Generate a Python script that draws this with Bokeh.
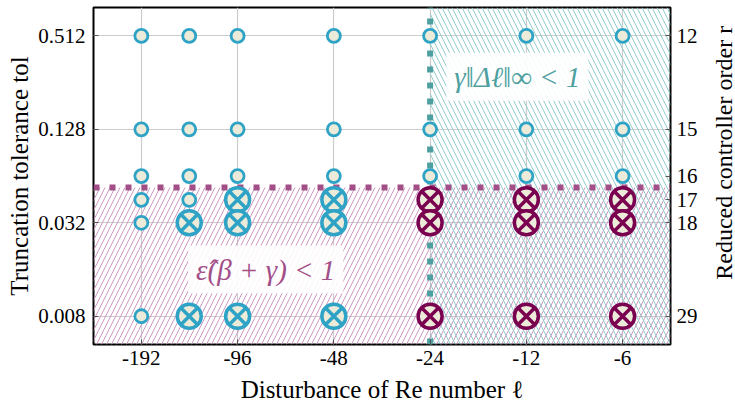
import math
from bokeh.plotting import figure
from bokeh.layouts import row
from bokeh.models import Range1d, LogAxis, FixedTicker, Label
from bokeh.core.properties import value
from bokeh.embed import file_html
from bokeh.resources import INLINE

# ---- data ----
ell_values = [-192, -136, -96, -48, -24, -12, -6]
ell_ticks = [-192, -96, -48, -24, -12, -6]
tol_values = [0.512, 0.128, 0.064, 0.045, 0.032, 0.008]
tol_ticks = [0.512, 0.128, 0.032, 0.008]
order_r = [12, 15, 16, 17, 18, 29]
# status per ell column, per tol row: 0 = plain point, 1 = blue crossed, 2 = maroon crossed
status = [
    [0, 0, 0, 0, 0, 0],
    [0, 0, 0, 0, 1, 1],
    [0, 0, 0, 1, 1, 1],
    [0, 0, 0, 1, 1, 1],
    [0, 0, 0, 2, 2, 2],
    [0, 0, 0, 2, 2, 2],
    [0, 0, 0, 2, 2, 2],
]
ell_threshold = -24
tol_threshold = 0.054

BLUE = "#2ea3c6"
MAROON = "#7a0050"
BEIGE = "#ecead8"
PINK = "#a24f88"
TEAL = "#4e9f9f"
FONT = "Liberation Serif"

x0, x1 = 271.0, 4.25
y0, y1 = 0.00526, 0.78

p = figure(frame_width=577, frame_height=337, x_axis_type="log", y_axis_type="log",
           x_range=Range1d(x0, x1), y_range=Range1d(y0, y1),
           output_backend="svg", toolbar_location=None,
           min_border_left=93, min_border_right=41, min_border_top=7, min_border_bottom=63)
p.outline_line_color = "black"
p.outline_line_width = 2
p.outline_line_alpha = 1

# hatched regions
p.quad(left=[x0], right=[x1], bottom=[y0], top=[tol_threshold], fill_alpha=0, line_alpha=0,
       hatch_pattern="/", hatch_color="#cf98c3", hatch_weight=1, hatch_scale=10)
p.quad(left=[-ell_threshold], right=[x1], bottom=[y0], top=[y1], fill_alpha=0, line_alpha=0,
       hatch_pattern="\\", hatch_color="#92cccc", hatch_weight=1, hatch_scale=10)

# threshold lines
p.line(x=[x0, x1], y=[tol_threshold, tol_threshold], line_color=PINK, line_width=6, line_dash="6 10")
p.line(x=[-ell_threshold, -ell_threshold], y=[y0, y1], line_color=TEAL, line_width=6, line_dash="6 10")

# markers
xs = {0: [], 1: [], 2: []}
ys = {0: [], 1: [], 2: []}
for ell, col in zip(ell_values, status):
    for t, s in zip(tol_values, col):
        xs[s].append(-ell)
        ys[s].append(t)
p.scatter(xs[0], ys[0], marker="circle", size=13, line_color=BLUE, line_width=2.8, fill_color=BEIGE)
p.scatter(xs[1], ys[1], marker="circle_x", size=24, line_color=BLUE, line_width=3.5, fill_color=BEIGE)
p.scatter(xs[2], ys[2], marker="circle_x", size=24, line_color=MAROON, line_width=3.5, fill_color=BEIGE)

# region labels
p.add_layout(Label(x=12.8, y=0.279, text="γ‖Δℓ‖∞ < 1", text_font=FONT, text_font_size="29px",
                   text_font_style="italic",
                   text_color=TEAL, text_align="center", text_baseline="middle",
                   background_fill_color="white", background_fill_alpha=0.9, padding=8))
p.add_layout(Label(x=78.4, y=0.016, text="ε̂(β + γ) < 1", text_font=FONT, text_font_size="29px",
                   text_font_style="italic",
                   text_color=PINK, text_align="center", text_baseline="middle",
                   background_fill_color="white", background_fill_alpha=0.9, padding=8))

# axes
xa = p.xaxis[0]
xa.ticker = FixedTicker(ticks=[-v for v in ell_ticks])
xa.major_label_overrides = {-v: str(v) for v in ell_ticks}
xa.axis_label = "Disturbance of Re number ℓ"
ya = p.yaxis[0]
ya.ticker = FixedTicker(ticks=tol_ticks)
ya.major_label_overrides = {v: str(v) for v in tol_ticks}
ya.axis_label = "Truncation tolerance tol"

ra = LogAxis(ticker=FixedTicker(ticks=tol_values),
             major_label_overrides={t: str(r) for t, r in zip(tol_values, order_r)})
p.add_layout(ra, "right")

for ax in [xa, ya, ra]:
    ax.axis_line_color = None
    ax.major_tick_in = 5
    ax.major_tick_out = 0
    ax.minor_tick_line_color = None
    ax.major_tick_line_color = "#555555"
    ax.major_label_text_font = FONT
    ax.major_label_text_font_size = "21px"
    ax.major_label_text_color = "black"
    ax.axis_label_text_font = FONT
    ax.axis_label_text_font_size = "25px"
    ax.axis_label_text_font_style = "normal"
    ax.axis_label_text_color = "black"
xa.major_label_standoff = 6
xa.axis_label_standoff = 8
ya.major_label_standoff = 8
ya.axis_label_standoff = 2
ra.major_label_standoff = 6

p.xgrid.ticker = FixedTicker(ticks=[-v for v in ell_ticks])
p.ygrid.ticker = FixedTicker(ticks=tol_ticks)
p.grid.grid_line_color = "#cccccc"
p.grid.grid_line_width = 1.2

# narrow strip on the right carrying the right-hand axis title
right_title = ["Reduced controller order r"]
p2 = figure(width=24, height=p.frame_height + 7 + 63, x_range=Range1d(0, 1), y_range=Range1d(0, 1),
            output_backend="svg", toolbar_location=None, min_border=0,
            x_axis_location=None, y_axis_location=None)
p2.outline_line_color = None
p2.grid.visible = False
p2.text(x=[0.5], y=[(337 / 2 + 63) / (337 + 70)], text=right_title, angle=math.pi / 2,
        text_font=value(FONT), text_font_size="24px", text_color="black",
        text_align="center", text_baseline="middle")

layout = row(p, p2, spacing=0)
open("out.html", "w").write(file_html(layout, INLINE))
